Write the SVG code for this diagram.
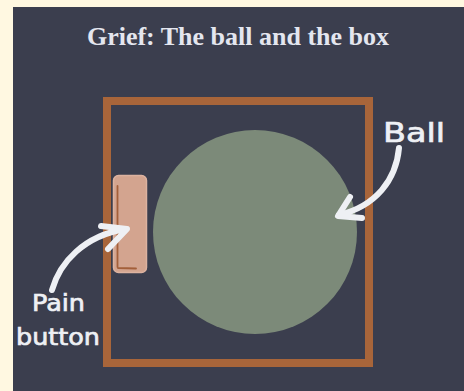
<svg xmlns="http://www.w3.org/2000/svg" width="464" height="391" viewBox="0 0 464 391">
  <defs>
    <style>
      .title { font-family: "Liberation Serif", "Times New Roman", serif; font-weight: bold; font-size: 26px; fill: #e4e6ef; }
      .hand { font-family: "DejaVu Sans", "Noto Sans", sans-serif; fill: #eef0f4; stroke: #eef0f4; stroke-width: 0.7; }
      .arrow { fill: none; stroke: #eef0f4; stroke-width: 6; stroke-linecap: round; stroke-linejoin: round; }
    </style>
  </defs>
  <rect x="0" y="0" width="464" height="391" fill="#fff8e1"/>
  <rect x="13" y="7" width="451" height="384" fill="#3b3e4e"/>
  <text class="title" x="238" y="45" text-anchor="middle">Grief: The ball and the box</text>

  <g id="box">
    <rect x="107" y="101" width="262" height="262" fill="none" stroke="#a8653a" stroke-width="8"/>
  </g>
  <g id="ball">
    <circle cx="255" cy="232" r="102" fill="#7c8a79"/>
  </g>
  <g id="pain-button">
    <rect x="113.5" y="175.5" width="33" height="97" rx="5" fill="#d3a48f" stroke="#dcb2a0" stroke-width="1.5"/>
    <path d="M117.5 186 L117.5 267 M118 268 L136 268.5" fill="none" stroke="#a35f3a" stroke-width="1.8" stroke-linecap="round"/>
  </g>
  <g id="label-pain">
    <text class="hand" font-size="23" x="32" y="311" textLength="53" lengthAdjust="spacingAndGlyphs">Pain</text>
    <text class="hand" font-size="23" x="16" y="345" textLength="84" lengthAdjust="spacingAndGlyphs">button</text>
  </g>
  <g id="label-ball">
    <text class="hand" font-size="27" x="383" y="142" textLength="62" lengthAdjust="spacingAndGlyphs">Ball</text>
  </g>

  <g id="connectors">
    <path class="arrow" d="M52 290 C60 262 84 236 125 229"/>
    <path class="arrow" d="M101 226 L127 229 L108 249"/>
    <path class="arrow" d="M399 148 C396 180 376 206 339 215"/>
    <path class="arrow" d="M350 197 L338 216 L362 218"/>
  </g>
</svg>
